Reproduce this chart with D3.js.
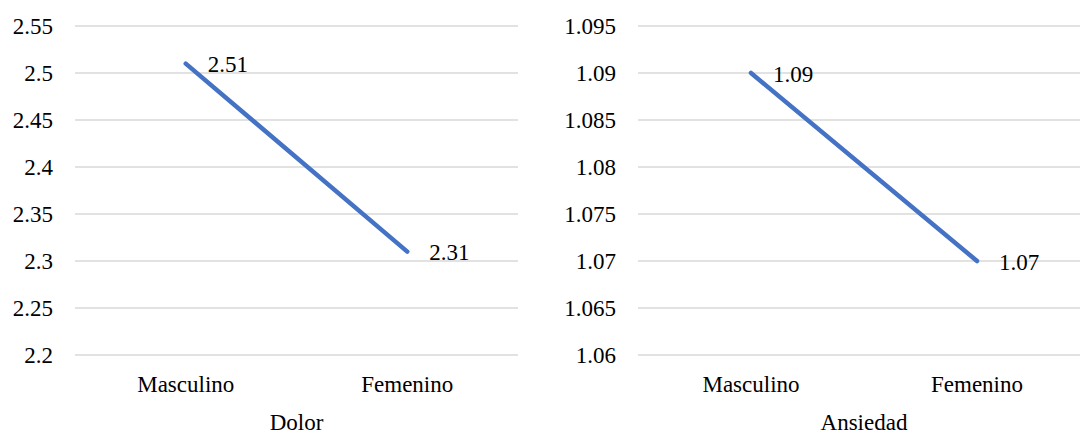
<!DOCTYPE html>
<html><head><meta charset="utf-8">
<script src="https://cdn.jsdelivr.net/npm/d3@7"></script>
<style>body{margin:0;background:#fff}svg{display:block}</style>
</head><body><svg id="c" width="1080" height="437" font-family="'Liberation Serif', Tinos, 'Times New Roman', Times, serif"></svg>
<script>
const categories = ["Masculino", "Femenino"];
const dolorValues = [2.51, 2.31];
const ansiedadValues = [1.09, 1.07];
const dolorTicks = [2.2, 2.25, 2.3, 2.35, 2.4, 2.45, 2.5, 2.55];
const ansiedadTicks = [1.06, 1.065, 1.07, 1.075, 1.08, 1.085, 1.09, 1.095];
const titles = ["Dolor", "Ansiedad"];

const svg = d3.select("#c");
const FS = 23;
const panels = [
  {title: titles[0], values: dolorValues, ticks: dolorTicks, x0: 75, x1: 518},
  {title: titles[1], values: ansiedadValues, ticks: ansiedadTicks, x0: 638, x1: 1090}
];
const yTop = 26, yBot = 355;

panels.forEach(p => {
  const g = svg.append("g");
  const y = d3.scaleLinear().domain([p.ticks[0], p.ticks[p.ticks.length-1]]).range([yBot, yTop]);
  const x = d3.scaleBand().domain(categories).range([p.x0, p.x1]);
  g.selectAll("line.grid").data(p.ticks).join("line")
    .attr("x1", p.x0).attr("x2", p.x1)
    .attr("y1", d => y(d)).attr("y2", d => y(d))
    .attr("stroke", "#d9d9d9").attr("stroke-width", 1.3);
  g.selectAll("text.yt").data(p.ticks).join("text")
    .attr("x", p.x0 - 22).attr("y", d => y(d))
    .attr("text-anchor", "end").attr("dominant-baseline", "central")
    .attr("font-size", FS)
    .text(d => String(d));
  g.selectAll("text.xt").data(categories).join("text")
    .attr("x", d => x(d) + x.bandwidth()/2).attr("y", 384.5)
    .attr("text-anchor", "middle").attr("dominant-baseline", "central")
    .attr("font-size", FS)
    .text(d => d);
  g.append("text").attr("x", (p.x0 + p.x1)/2).attr("y", 422)
    .attr("text-anchor", "middle").attr("dominant-baseline", "central")
    .attr("font-size", FS).text(p.title);
  const line = d3.line().x((d, i) => x(categories[i]) + x.bandwidth()/2).y(d => y(d));
  g.append("path").datum(p.values).attr("d", line)
    .attr("fill", "none").attr("stroke", "#4472c4").attr("stroke-width", 4.5)
    .attr("stroke-linecap", "round").attr("stroke-linejoin", "round");
  g.selectAll("text.dl").data(p.values).join("text")
    .attr("x", (d, i) => x(categories[i]) + x.bandwidth()/2 + 22)
    .attr("y", d => y(d) + 1)
    .attr("dominant-baseline", "central")
    .attr("font-size", FS)
    .text(d => d.toFixed(2));
});
</script></body></html>
